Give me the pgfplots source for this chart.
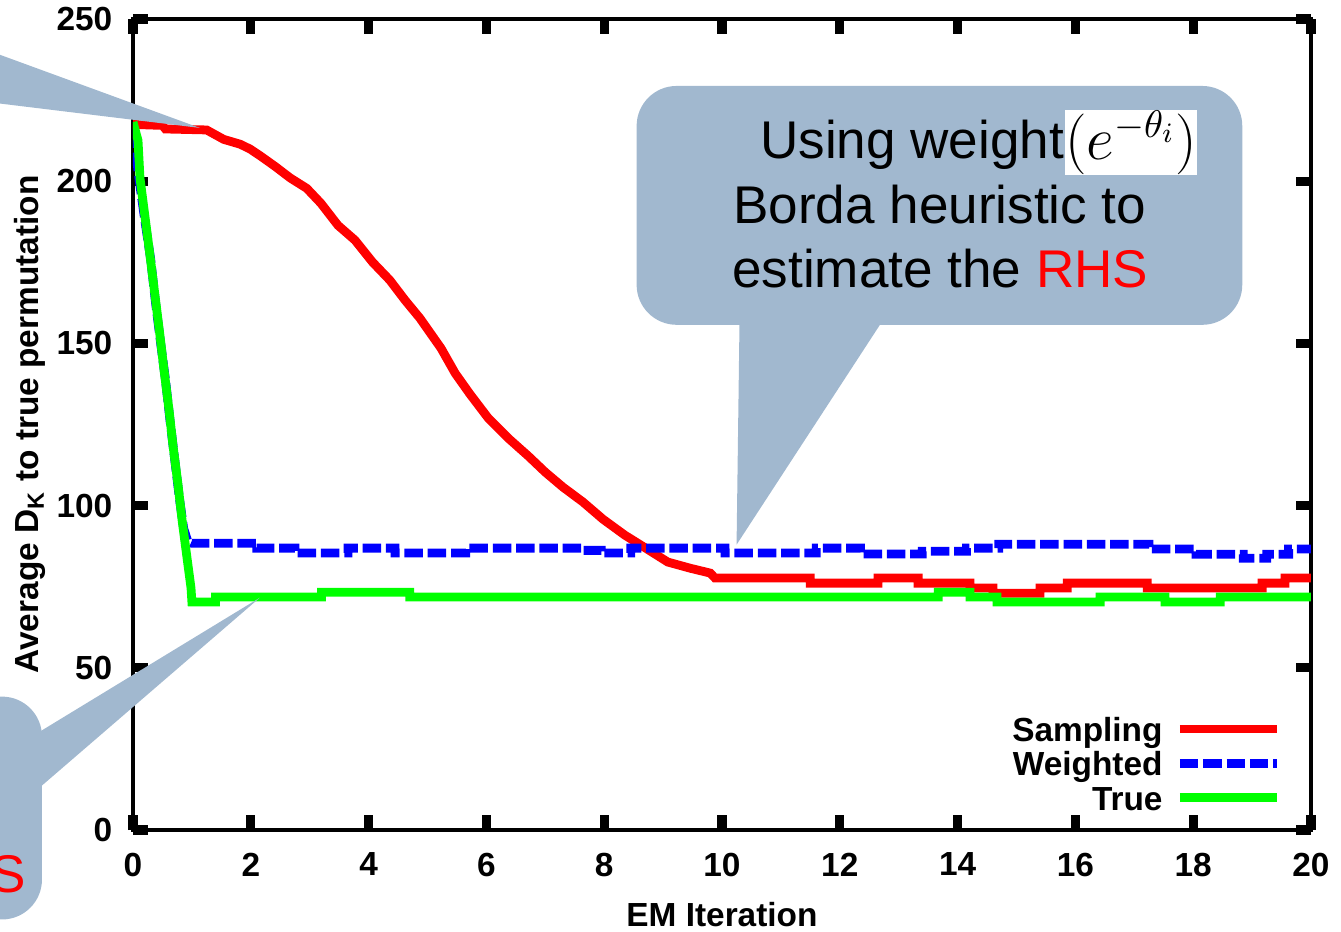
\documentclass[border=0pt]{standalone}
\usepackage{fontspec}
\setmainfont{Liberation Sans}
\usepackage{pgfplots}
\pgfplotsset{compat=1.18}
\definecolor{bubble}{RGB}{161,184,207}
\definecolor{sred}{RGB}{255,0,0}
\definecolor{sblue}{RGB}{0,0,255}
\definecolor{sgreen}{RGB}{0,255,0}
\newcommand{\lblfont}{\fontsize{9.5}{11}\selectfont\bfseries}
\begin{document}
\begin{tikzpicture}
\useasboundingbox (0,0) rectangle (13.41,9.31);
\clip (0,0) rectangle (13.41,9.31);
\begin{axis}[
  at={(1.33cm,1.01cm)}, anchor=south west,
  scale only axis, width=11.78cm, height=8.11cm,
  xmin=0, xmax=20, ymin=0, ymax=250,
  xtick={0,2,...,20}, ytick={0,50,...,250},
  axis line style={line width=1.4pt},
  major tick length=0.15cm,
  tick style={line width=2.6pt, black},
  /pgf/number format/assume math mode=true,
  tick label style={font=\lblfont},
  xticklabel style={inner sep=0pt, yshift=-0.22cm},
  yticklabel style={inner sep=0pt, xshift=-0.2cm},
  every axis x label/.style={at={(axis description cs:0.5,-0.1048)}, anchor=center, font=\lblfont},
  every axis y label/.style={at={(axis description cs:-0.0874,0.5)}, rotate=90, anchor=center, font=\lblfont},
  xlabel={EM Iteration},
  ylabel={Average D\textsubscript{K} to true permutation},
  legend style={draw=none, fill=none, at={(0.9754,0.1406)}, anchor=north east,
    inner sep=0pt, row sep=0.8pt, column sep=0.13cm, font=\lblfont,
    nodes={inner sep=0pt, text height=7pt, text depth=2pt}},
  legend cell align=right,
  legend plot pos=right,
  legend image code/.code={\draw[#1] (0cm,1pt) -- (0.97cm,1pt);},
]
\addplot[sred, line width=2.5pt] coordinates {
 (0,217.5) (0.5,217.2) (0.55,216.1) (1.25,215.8) (1.54,212.9) (1.82,211.4)
 (1.99,209.9) (2.17,207.7) (2.41,204.6) (2.67,201.0) (2.95,197.8) (3.19,193.2)
 (3.48,186.4) (3.77,181.8) (4.07,175.0) (4.36,169.5) (4.62,163.3) (4.87,157.8)
 (5.23,148.5) (5.47,140.8) (5.72,134.4) (6.03,127.0) (6.37,120.8) (6.71,115.3)
 (7.00,110.3) (7.30,105.7) (7.64,101.1) (7.98,95.8) (8.35,90.9) (8.73,86.6)
 (9.08,82.6) (9.46,80.7) (9.80,79.2) (9.88,77.7) (11.5,77.7) (11.5,76.1)
 (12.65,76.1) (12.65,77.7) (13.33,77.7) (13.33,76.1) (14.21,76.1) (14.21,74.6)
 (14.6,74.6) (14.6,73.0) (15.4,73.0) (15.4,74.6) (15.86,74.6) (15.86,76.1)
 (17.22,76.1) (17.22,74.6) (19.17,74.6) (19.17,76.1) (19.56,76.1) (19.56,77.7)
 (20,77.7)};
\addlegendentry{Sampling}
\addplot[sblue, line width=2.5pt, dash pattern=on 0.185cm off 0.048cm] coordinates {
 (0,216) (0.1,201) (0.2,188) (0.3,176) (0.38,163) (0.47,150) (0.55,139)
 (0.63,126) (0.71,114) (0.79,102) (0.86,93) (0.93,89) (1.0,88.4) (2.1,88.4)
 (2.1,86.9) (2.75,86.9) (2.75,85.4) (3.65,85.4) (3.65,86.9) (4.45,86.9)
 (4.45,85.4) (5.65,85.4) (5.65,86.9) (7.65,86.9) (7.65,86.2) (7.95,86.2)
 (7.95,85.4) (8.45,85.4) (8.45,86.9) (10.05,86.9) (10.05,85.4) (11.6,85.4)
 (11.6,86.9) (12.35,86.9) (12.35,85.1) (13.4,85.1) (13.4,85.9) (14.15,85.9)
 (14.15,86.9) (14.7,86.9) (14.7,88.1) (17.25,88.1) (17.25,86.6) (18.05,86.6)
 (18.05,85.0) (18.85,85.0) (18.85,83.8) (19.25,83.8) (19.25,85.0) (19.62,85.0)
 (19.62,86.6) (20,86.6)};
\addlegendentry{Weighted}
\addplot[sgreen, line width=2.5pt] coordinates {
 (0,218.2) (0.085,212.6) (0.119,200.9) (0.204,189.0) (0.289,177.0) (0.374,164.7)
 (0.458,152.4) (0.526,141.9) (0.611,129.6) (0.679,118.5) (0.764,106.5)
 (0.832,95.7) (0.917,83.9) (0.985,74.6) (1.0,70.3) (1.4,70.3) (1.4,71.8)
 (3.2,71.8) (3.2,73.3) (4.7,73.3) (4.7,71.8) (13.67,71.8) (13.67,73.3)
 (14.21,73.3) (14.21,71.8) (14.67,71.8) (14.67,70.3) (16.42,70.3) (16.42,71.8)
 (17.52,71.8) (17.52,70.3) (18.46,70.3) (18.46,71.8) (20,71.8)};
\addlegendentry{True}
\end{axis}
% callouts, in pixel units of the original slide (y pointing down)
\begin{scope}[shift={(0,9.31)}, x=0.01cm, y=-0.01cm]
\fill[bubble] (-5,53) -- (200,128) -- (-5,103) -- cycle;
\fill[bubble, rounded corners=0.4cm] (637,86) rectangle (1243,325);
\fill[bubble] (740,318) -- (737,545) -- (885,318) -- cycle;
\fill[bubble, rounded corners=0.4cm] (-300,697) rectangle (42,920);
\fill[bubble] (35,735) -- (260,598) -- (35,792) -- cycle;
\begin{scope}[every node/.style={inner sep=0pt, font=\fontsize{15.1}{18}\selectfont}]
\node[anchor=base west] at (760,159) {Using weight};
\node[fill=white, minimum width=1.3cm, minimum height=0.65cm, font=\fontsize{16}{18}\selectfont]
  at (1132,142.5) {$\bigl(e^{-\theta_i}\bigr)$};
\node[anchor=base west] at (733,224) {Borda heuristic to};
\node[anchor=base west] at (732,288) {estimate the \textcolor{sred}{RHS}};
\node[anchor=base east, text=sred] at (27,893) {RHS};
\end{scope}
\end{scope}
\end{tikzpicture}
\end{document}
